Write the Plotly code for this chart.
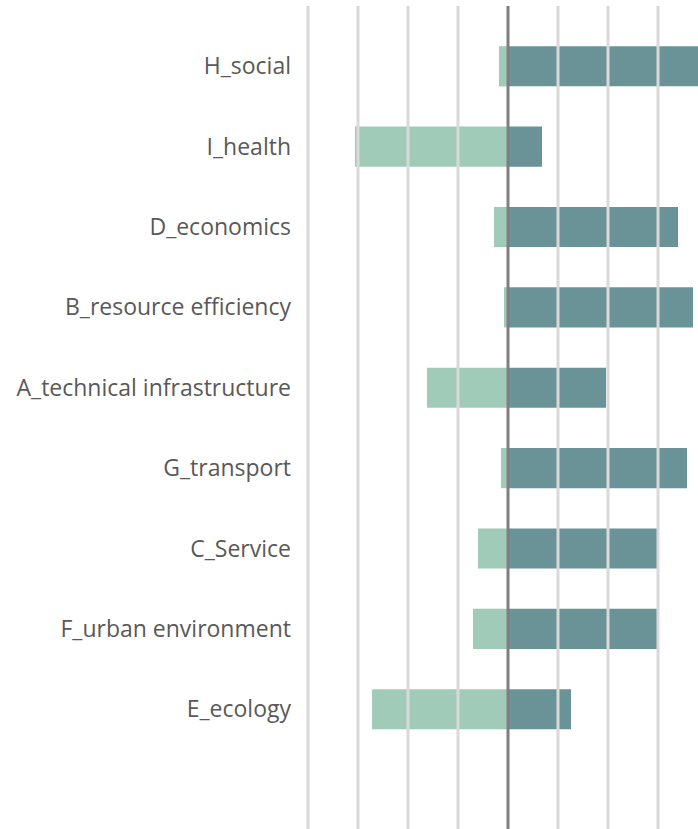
import plotly.graph_objects as go

categories = ["E_ecology", "F_urban environment", "C_Service", "G_transport",
              "A_technical infrastructure", "B_resource efficiency", "D_economics",
              "I_health", "H_social"]
negative = [-2.72, -0.70, -0.60, -0.14, -1.62, -0.08, -0.28, -3.06, -0.18]
positive = [1.26, 2.98, 2.98, 3.58, 1.96, 3.70, 3.40, 0.68, 3.80]
grid_vals = [-4, -3, -2, -1, 1, 2, 3, 4]

fig = go.Figure()
fig.add_trace(go.Bar(y=categories, x=negative, orientation="h",
                     marker=dict(color="#a0cbb9", line=dict(width=0)), width=0.5,
                     showlegend=False))
fig.add_trace(go.Bar(y=categories, x=positive, orientation="h",
                     marker=dict(color="#6a9397", line=dict(width=0)), width=0.5,
                     showlegend=False))

# gridlines drawn above the bars, as in the reference
for v in grid_vals:
    fig.add_vline(x=v, line=dict(color="#d9d9d9", width=3), layer="above")
fig.add_vline(x=0, line=dict(color="#7f7f7f", width=3), layer="above")

fig.update_layout(
    width=698, height=829,
    margin=dict(l=300, r=0, t=6, b=0),
    barmode="relative",
    plot_bgcolor="white", paper_bgcolor="white",
    font=dict(family="Open Sans", size=23, color="#595959"),
    xaxis=dict(range=[-4.16, 3.8], showticklabels=False, showgrid=False,
               zeroline=False, fixedrange=True),
    yaxis=dict(range=[-1.49, 8.75], showgrid=False, zeroline=False,
               ticks="", ticklabelstandoff=8, fixedrange=True,
               tickfont=dict(size=23, color="#595959")),
)

fig.write_html("out.html",
               config={"displayModeBar": False},
               post_script="document.body.style.margin='0';document.body.style.overflow='hidden';")
